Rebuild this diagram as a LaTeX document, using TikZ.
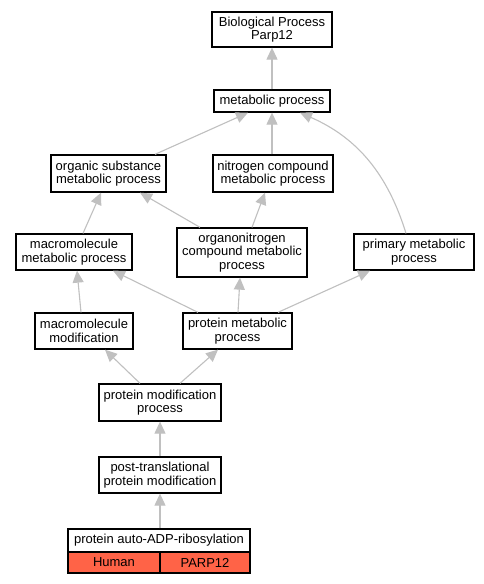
\documentclass[tikz,border=0pt]{standalone}
\usepackage{fontspec}
\setmainfont{Liberation Sans}
\usetikzlibrary{arrows.meta}
\definecolor{edgegray}{HTML}{C0C0C0}
\definecolor{tomatored}{HTML}{FF6347}
\begin{document}
\begin{tikzpicture}[x=1pt,y=-1pt,
  box/.style={draw=black,line width=1.3pt,fill=white,inner sep=0pt,align=center,
    font=\fontsize{13pt}{13.4pt}\selectfont},
  cell/.style={draw=black,line width=1.3pt,fill=tomatored,inner sep=0pt,align=center,
    font=\fontsize{13pt}{13.4pt}\selectfont},
  edge/.style={draw=edgegray,line width=1.1pt,-{Triangle[length=12pt,width=11pt]}}]
\useasboundingbox (0,0) rectangle (483,584);
\fill[white] (0,0) rectangle (483,584);
\newcommand{\bx}[6]{\node[box,minimum width=#4,minimum height=#5] (#1) at (#2,#3) {#6};}
\bx{bp}{272}{29.5}{120}{35}{Biological Process\\Parp12}
\bx{met}{272}{101}{116}{22}{metabolic process}
\bx{org}{108.5}{173.5}{115}{37}{organic substance\\metabolic process}
\bx{nit}{273}{173.5}{120}{37}{nitrogen compound\\metabolic process}
\bx{onc}{242}{252.5}{130}{49}{organonitrogen\\compound metabolic\\process}
\bx{mmp}{74}{252}{116}{36}{macromolecule\\metabolic process}
\bx{pri}{414}{252}{120}{36}{primary metabolic\\process}
\bx{mmod}{84}{331}{98}{36}{macromolecule\\modification}
\bx{pmp}{237.5}{331}{109}{36}{protein metabolic\\process}
\bx{pmod}{160}{402.5}{122}{37}{protein modification\\process}
\bx{ptm}{160}{475}{122}{36}{post-translational\\protein modification}
\bx{auto}{159}{540.5}{182}{23}{protein auto-ADP-ribosylation}
\node[cell,minimum width=92,minimum height=21] (hum) at (114,562.5) {Human};
\node[cell,minimum width=90,minimum height=21] (parp) at (205,562.5) {PARP12};
% edges
\draw[edge] (met.north) -- (bp.south);
\draw[edge] (org.north -| 155,0) -- (met.south -| 248,0);
\draw[edge] (nit.north -| 272,0) -- (met.south);
\draw[edge] (pri.north -| 406,0) .. controls (388,175) and (358,138) .. (met.south -| 300,0);
\draw[edge] (mmp.north -| 83,0) -- (org.south -| 101,0);
\draw[edge] (onc.north -| 200,0) -- (org.south -| 140,0);
\draw[edge] (onc.north -| 252,0) -- (nit.south -| 265,0);
\draw[edge] (mmod.north -| 81,0) -- (mmp.south -| 77,0);
\draw[edge] (pmp.north -| 198,0) -- (mmp.south -| 113,0);
\draw[edge] (pmp.north -| 238,0) -- (onc.south -| 240,0);
\draw[edge] (pmp.north -| 278,0) -- (pri.south -| 370,0);
\draw[edge] (pmod.north -| 140,0) -- (mmod.south -| 105,0);
\draw[edge] (pmod.north -| 180,0) -- (pmp.south -| 218,0);
\draw[edge] (ptm.north) -- (pmod.south);
\draw[edge] (auto.north -| ptm.south) -- (ptm.south);
\end{tikzpicture}
\end{document}
